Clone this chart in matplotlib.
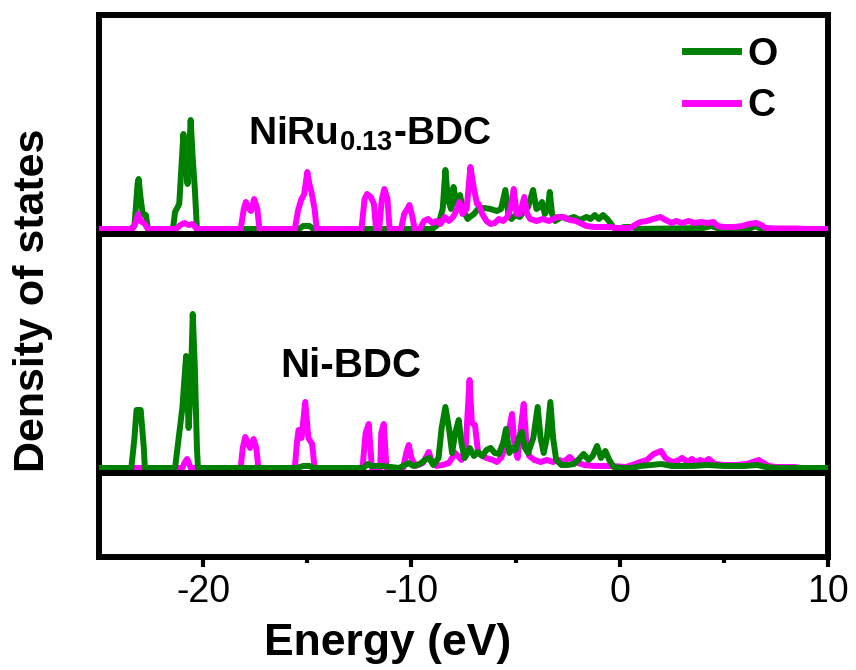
import matplotlib
matplotlib.use("Agg")
import matplotlib.pyplot as plt
from matplotlib.lines import Line2D
import numpy as np

plt.rcParams['font.family'] = ['Liberation Sans', 'DejaVu Sans']
plt.rcParams['axes.unicode_minus'] = False
plt.rcParams['mathtext.fontset'] = 'custom'
plt.rcParams['mathtext.bf'] = 'Liberation Sans:bold'
plt.rcParams['mathtext.rm'] = 'Liberation Sans:bold'

# ---- data (energy in eV, DOS in arbitrary units) ----
# NiRu0.13-BDC, O states
ru_O_E = [-25, -23.5, -23.3, -23.15, -23.1, -23.0, -22.9, -22.75, -22.65,
          -21.45, -21.35, -21.15, -20.95, -20.85, -20.75, -20.6, -20.5, -20.4, -20.3,
          -15.4, -15.2, -14.9, -14.7,
          -9.0, -8.7, -8.5, -8.37, -8.25, -8.1, -7.98, -7.85, -7.67, -7.5, -7.3, -7.2,
          -7.0, -6.8, -6.5, -6.2, -5.9, -5.7, -5.49, -5.35, -5.2, -5.0, -4.8, -4.6,
          -4.4, -4.16, -4.0, -3.85, -3.73, -3.6, -3.45, -3.36, -3.25, -3.1, -2.8,
          -2.5, -2.2, -1.9, -1.6, -1.4, -1.2, -1.0, -0.8, -0.6, -0.45, -0.28, 0.0,
          0.2, 0.6, 0.8, 4.0, 4.4, 4.8, 6.2, 6.5, 6.8, 10]
ru_O_dos = [0, 0, 3, 45, 50, 30, 15, 14, 0,
            0, 17, 25, 95, 70, 45, 109, 70, 40, 0,
            0, 3, 3, 0,
            0, 5, 20, 59, 30, 20, 42, 25, 34, 18, 10, 12,
            15, 20, 21, 20, 18, 20, 39, 15, 10, 14, 12, 18,
            22, 39, 20, 22, 27, 15, 20, 37, 15, 8, 12,
            10, 12, 9, 12, 10, 14, 10, 14, 10, 6, 1, 0,
            2, 2, 0, 1, 3, 0, 0, 3, 0, 0]

# NiRu0.13-BDC, C states
ru_C_E = [-25, -23.4, -23.25, -23.12, -23.0, -22.8, -22.65,
          -21.3, -21.1, -20.9, -20.7, -20.5, -20.3,
          -18.2, -18.05, -17.95, -17.8, -17.7, -17.55, -17.4, -17.3,
          -15.6, -15.45, -15.3, -15.15, -15.0, -14.9, -14.8, -14.65, -14.55,
          -12.4, -12.25, -12.13, -11.95, -11.8, -11.7,
          -11.55, -11.42, -11.3, -11.15, -11.05,
          -10.5, -10.35, -10.2, -10.1, -9.95, -9.85,
          -9.6, -9.4, -9.2, -9.0, -8.8, -8.6, -8.4, -8.2, -8.0, -7.85, -7.7, -7.55,
          -7.35, -7.17, -7.0, -6.85, -6.77, -6.6, -6.4, -6.2, -6.0, -5.8, -5.6,
          -5.4, -5.25, -5.09, -4.95, -4.8, -4.58, -4.45, -4.3, -4.0, -3.7, -3.4,
          -3.0, -2.7, -2.4, -2.1, -1.8, -1.6, -1.2, -0.4, -0.2, 0.5, 0.8, 1.0,
          1.3, 1.6, 1.95, 2.2, 2.5, 2.7, 3.0, 3.3, 3.6, 3.9, 4.2, 4.5, 4.7, 5.0,
          5.5, 5.9, 6.2, 6.55, 6.8, 7.0, 7.5, 8.5, 9.0, 10]
ru_C_dos = [0, 0, 6, 15, 8, 5, 0,
            0, 4, 6, 4, 5, 0,
            0, 20, 27, 20, 18, 30, 20, 0,
            0, 18, 29, 35, 57, 45, 37, 20, 0,
            0, 30, 35, 32, 25, 0,
            0, 30, 40, 30, 0,
            0, 15, 20, 24, 12, 0,
            0, 8, 10, 6, 8, 5, 12, 8, 12, 18, 27, 15,
            20, 62, 40, 25, 25, 15, 8, 5, 6, 10, 8,
            12, 20, 40, 15, 15, 32, 15, 10, 8, 10, 8,
            12, 12, 9, 8, 5, 3, 2, 2, 1, 1, 5, 7,
            8, 10, 12, 9, 6, 8, 6, 8, 6, 7, 6, 7, 3, 2,
            2, 3, 5, 6, 4, 1, 0.5, 0.5, 0, 0]

# Ni-BDC, O states
ni_O_E = [-25, -23.45, -23.3, -23.2, -23.0, -22.85, -22.8,
          -21.35, -21.0, -20.82, -20.7, -20.6, -20.5, -20.4, -20.3, -20.25,
          -15.5, -15.2, -14.9, -14.7, -12.3, -12.1, -11.9, -11.4, -10.6,
          -10.3, -10.15, -9.9, -9.6, -9.35, -9.15, -8.95, -8.7, -8.55, -8.37,
          -8.2, -8.05, -7.9, -7.73, -7.6, -7.45, -7.3, -7.2, -7.0, -6.8, -6.6,
          -6.4, -6.2, -6.0, -5.8, -5.6, -5.46, -5.3, -5.15, -5.0, -4.85, -4.7,
          -4.55, -4.4, -4.15, -3.94, -3.8, -3.65, -3.5, -3.33, -3.2, -3.05, -2.8,
          -2.5, -2.2, -2.0, -1.73, -1.5, -1.3, -1.09, -0.9, -0.69, -0.5, -0.29,
          0.0, 0.6, 1.0, 1.5, 2.0, 2.5, 3.5, 4.2, 5.0, 6.0, 6.6, 7.0, 7.5, 10]
ni_O_dos = [0, 0, 30, 58, 58, 20, 0,
            0, 60, 112, 40, 80, 154, 100, 20, 0,
            0, 2, 2, 0, 0, 4, 2, 2, 0,
            3, 5, 2, 4, 8, 10, 3, 10, 40, 61,
            40, 15, 35, 48, 25, 10, 15, 20, 12, 16, 12,
            18, 20, 15, 14, 25, 39, 15, 20, 18, 30, 36,
            20, 15, 30, 61, 30, 15, 30, 66, 30, 8, 3,
            3, 4, 8, 14, 8, 12, 22, 10, 17, 8, 1,
            0, 0, 2, 3, 4, 2, 2, 3, 2, 2, 3, 1, 0, 0]

# Ni-BDC, C states
ni_C_E = [-25, -21.0, -20.9, -20.77, -20.65, -20.6,
          -18.2, -18.1, -17.98, -17.85, -17.75, -17.58, -17.45, -17.35,
          -15.6, -15.5, -15.42, -15.28, -15.1, -14.95, -14.77, -14.65,
          -12.35, -12.2, -12.05, -11.9, -11.5, -11.45, -11.33, -11.2,
          -10.4, -10.25, -10.13, -10.0, -9.8, -9.45, -9.17, -9.0, -8.8, -8.5,
          -8.2, -7.9, -7.6, -7.4, -7.21, -7.1, -6.95, -6.8, -6.6, -6.4, -6.1,
          -5.9, -5.7, -5.5, -5.3, -5.17, -5.05, -4.9, -4.75, -4.61, -4.5, -4.35,
          -4.1, -3.8, -3.5, -3.2, -2.9, -2.7, -2.4, -2.2, -2.0, -1.7, -1.2, -0.4,
          0.3, 0.6, 0.99, 1.3, 1.63, 1.98, 2.2, 2.5, 2.75, 3.0, 3.25, 3.47, 3.65,
          3.87, 4.07, 4.27, 4.57, 5.0, 5.6, 6.1, 6.4, 6.67, 6.9, 7.15, 7.5, 8.4,
          8.7, 10]
ni_C_dos = [0, 0, 5, 9, 3, 0,
            0, 20, 31, 25, 20, 29, 20, 0,
            0, 25, 38, 30, 66, 30, 24, 0,
            0, 35, 44, 0, 0, 35, 44, 0,
            0, 15, 23, 10, 2, 5, 16, 5, 2, 3,
            5, 15, 8, 20, 88, 45, 43, 15, 12, 10, 8,
            6, 10, 20, 40, 54, 20, 10, 40, 64, 30, 12,
            8, 6, 8, 6, 8, 6, 11, 7, 5, 3, 2, 2,
            1, 3, 6, 8, 14, 17, 10, 6, 7, 10, 6, 9, 6,
            8, 6, 9, 4, 3, 3, 4, 6, 8, 5, 2, 1, 1,
            0, 0]

top_base = 328      # vertical offset of the NiRu0.13-BDC curves
top_line = 323
bot_base = 89       # vertical offset of the Ni-BDC curves
bot_line = 83.5

green = '#008000'
magenta = '#FF00FF'

fig = plt.figure(figsize=(8.56, 6.7), dpi=100)
ax = fig.add_axes([0.1157, 0.1687, 0.8516, 0.8089])

lw = 4.3
ax.plot(ru_O_E, np.array(ru_O_dos) + top_base, color=green, lw=lw, zorder=2)
ax.plot(ru_C_E, np.array(ru_C_dos) + top_base, color=magenta, lw=lw, zorder=3)
ax.plot(ni_C_E, np.array(ni_C_dos) + bot_base, color=magenta, lw=lw, zorder=2)
ax.plot(ni_O_E, np.array(ni_O_dos) + bot_base, color=green, lw=lw, zorder=3)

ax.axhline(top_line, color='black', lw=4.3, zorder=4)
ax.axhline(bot_line, color='black', lw=4.3, zorder=4)

ax.set_xlim(-25, 10)
ax.set_ylim(0, 542)
ax.set_xticks([-20, -10, 0, 10])
ax.set_xticks([-15, -5, 5], minor=True)
ax.set_yticks([])
ax.tick_params(axis='x', which='major', direction='out', length=7, width=3,
               labelsize=27, pad=5)
ax.tick_params(axis='x', which='minor', direction='out', length=4, width=3)
for s in ax.spines.values():
    s.set_linewidth(4.3)

ax.text(0.204, 0.760, r'NiRu$_{\mathbf{0.13}}$-BDC', transform=ax.transAxes,
        fontsize=28, fontweight='bold', ha='left', va='baseline')
ax.text(0.248, 0.332, 'Ni-BDC', transform=ax.transAxes,
        fontsize=29, fontweight='bold', ha='left', va='baseline')

handles = [Line2D([], [], color=green, lw=5), Line2D([], [], color=magenta, lw=5)]
ax.legend(handles, ['O', 'C'], loc='upper right', bbox_to_anchor=(0.958, 0.996),
          frameon=False, prop={'size': 28, 'weight': 'bold'},
          handlelength=1.35, handletextpad=0.25, labelspacing=0.4, borderpad=0)

fig.text(388 / 856, 1 - 644 / 670, 'Energy (eV)', fontsize=32, fontweight='bold',
         ha='center', va='center')
fig.text(33 / 856, 1 - 300 / 670, 'Density of states', fontsize=31, fontweight='bold',
         ha='center', va='center', rotation=90)

fig.savefig('out.png', dpi=100)
